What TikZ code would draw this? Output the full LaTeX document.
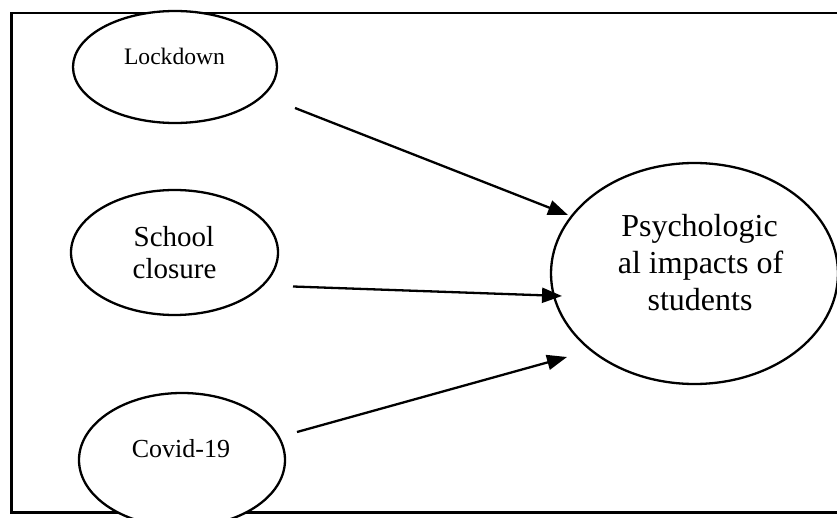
\documentclass[tikz,border=0pt]{standalone}
\usepackage{fontspec}
\setmainfont{Liberation Serif}
\usetikzlibrary{shapes.geometric,arrows.meta}
\tikzset{
  oval/.style={draw=black, line width=2.3pt, fill=white, ellipse, inner sep=0pt},
  txt/.style={anchor=base, inner sep=0pt, text=black},
  conn/.style={line width=2.3pt, -{Triangle[length=20pt,width=15pt]}},
}
\begin{document}
\begin{tikzpicture}[x=1pt,y=-1pt]
\useasboundingbox (0,0) rectangle (837,518);
\clip (0,0) rectangle (837,518);
\fill[white] (0,0) rectangle (837,518);
\draw[line width=2.3pt] (11.5,13) rectangle (850,512.5);
% ellipses
\node[oval, minimum width=204pt, minimum height=112pt] (lock) at (175,67) {};
\node[oval, minimum width=207pt, minimum height=125pt] (school) at (174.5,252.5) {};
\node[oval, minimum width=206pt, minimum height=134pt] (covid) at (182,460) {};
\node[oval, minimum width=287pt, minimum height=221pt] (psy) at (694.5,273.5) {};
% texts
\node[txt, font=\fontsize{23.6}{27}\selectfont] (locktxt) at (174.5,65) {Lockdown};
\node[txt, font=\fontsize{29}{34}\selectfont] (schooltxt1) at (174,246.5) {School};
\node[txt, font=\fontsize{29}{34}\selectfont] (schooltxt2) at (174.5,279) {closure};
\node[txt, font=\fontsize{26}{30}\selectfont] (covidtxt) at (181,457) {Covid-19};
\node[txt, font=\fontsize{32}{37}\selectfont] (psytxt1) at (699.5,237) {Psychologic};
\node[txt, font=\fontsize{32}{37}\selectfont] (psytxt2) at (700.5,274) {al impacts of};
\node[txt, font=\fontsize{32}{37}\selectfont] (psytxt3) at (700,311) {students};
% connector ends
\coordinate (a1s) at (295,108);
\coordinate (a1e) at (568,215);
\coordinate (a2s) at (293,286.5);
\coordinate (a2e) at (562,296);
\coordinate (a3s) at (297,432);
\coordinate (a3e) at (567,357);
\draw[conn] (a1s) -- (a1e);
\draw[conn] (a2s) -- (a2e);
\draw[conn] (a3s) -- (a3e);
\end{tikzpicture}
\end{document}
